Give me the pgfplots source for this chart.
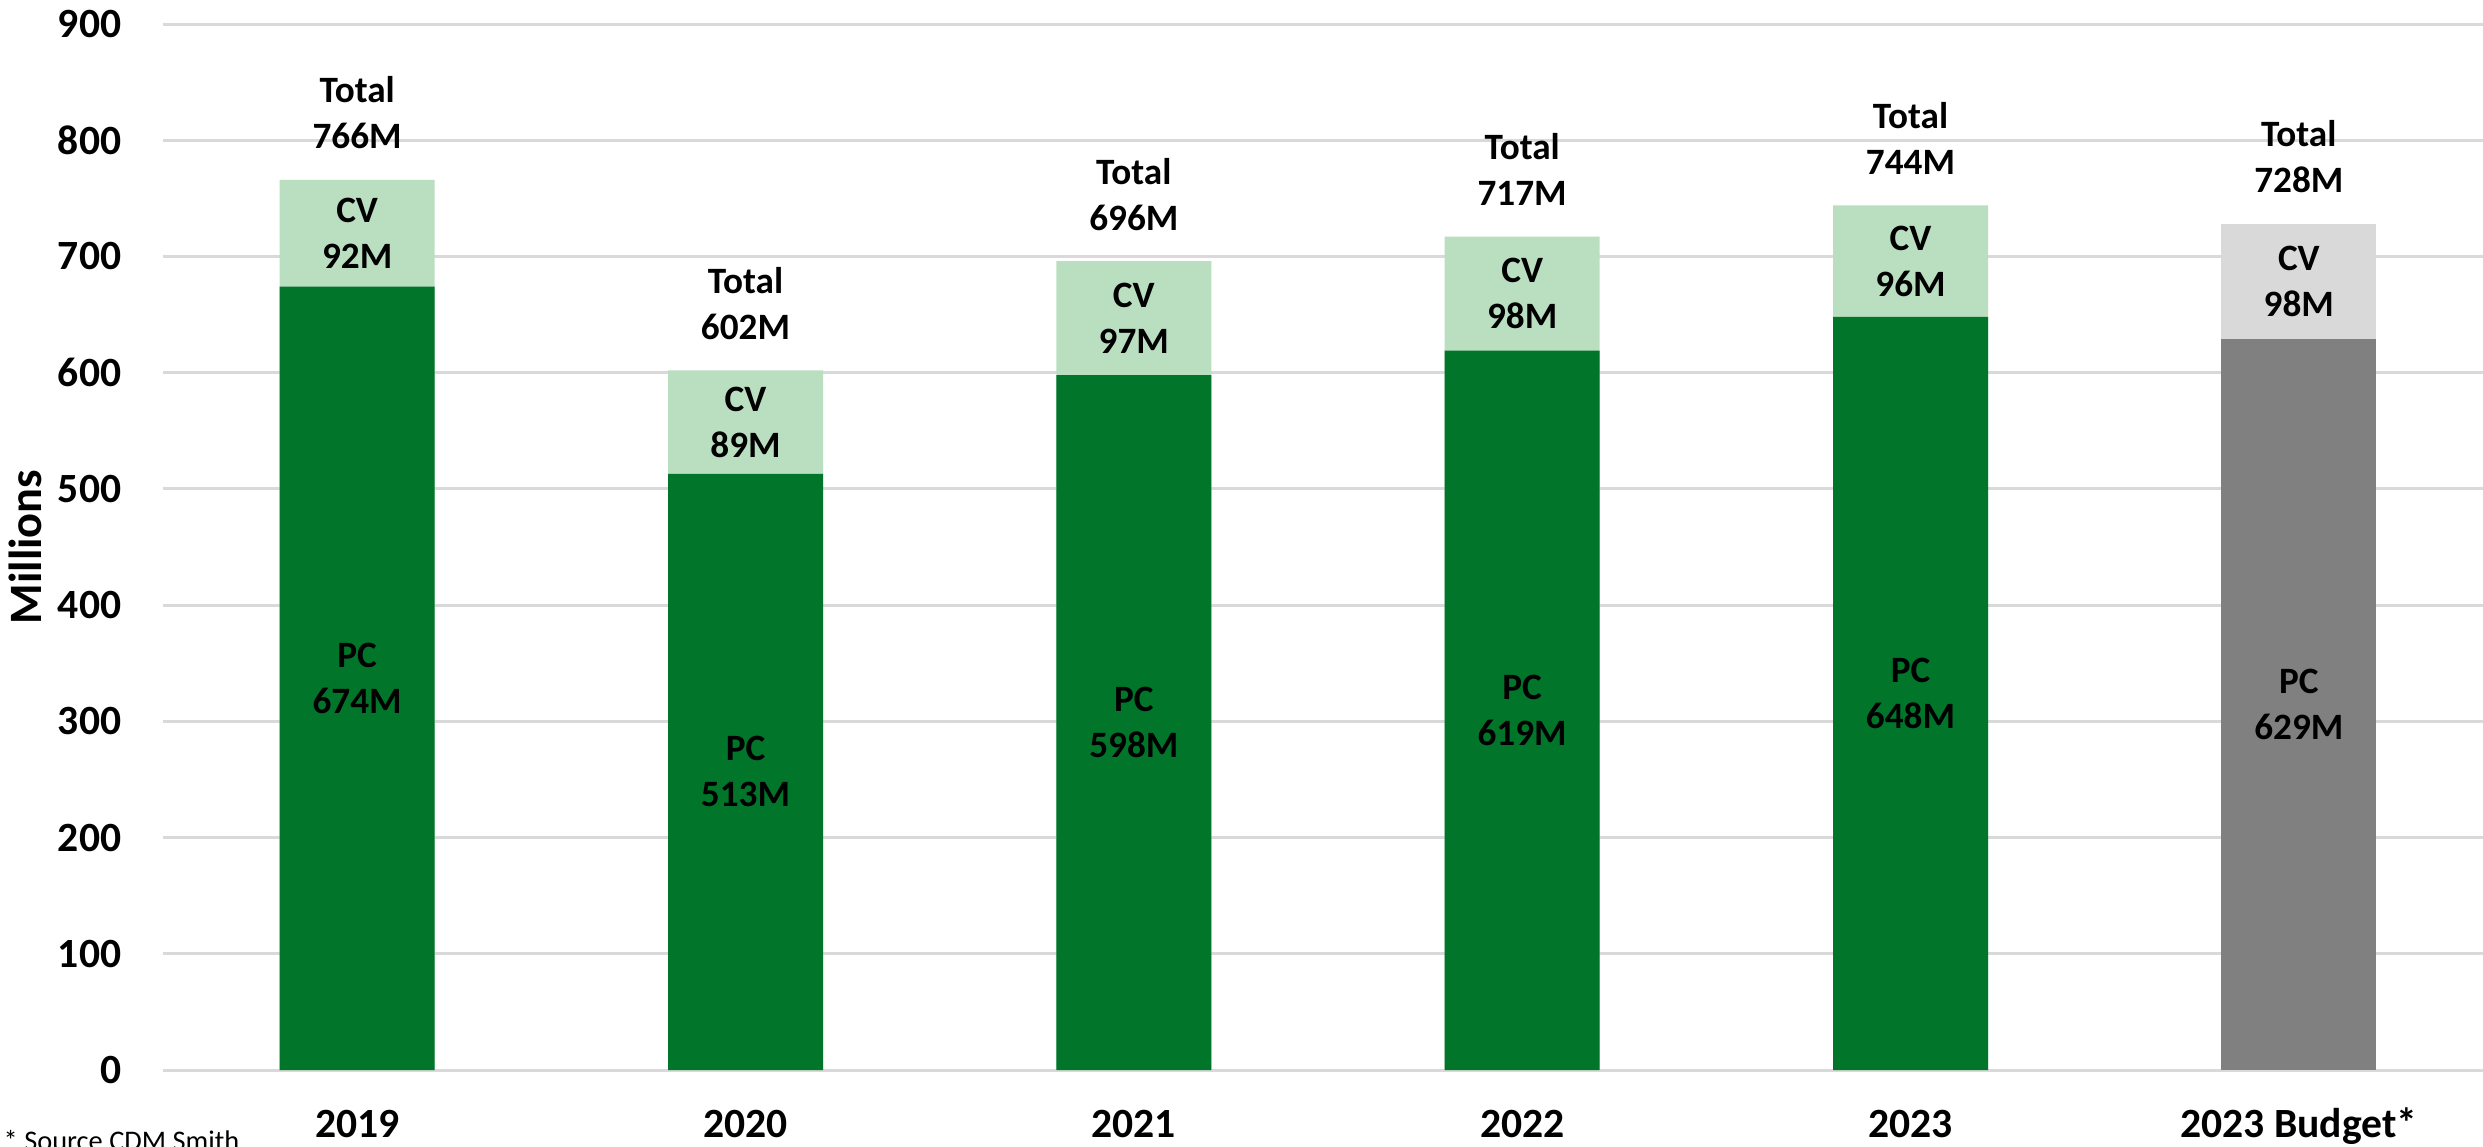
\documentclass[border=0pt]{standalone}
\usepackage{fontspec}
\setmainfont{Carlito}
\usepackage{pgfplots}
\pgfplotsset{compat=1.18}
\definecolor{pcgreen}{HTML}{01752A}
\definecolor{cvgreen}{HTML}{BADEC0}
\definecolor{pcgray}{HTML}{808080}
\definecolor{cvgray}{HTML}{D9D9D9}
\definecolor{gridgray}{HTML}{D9D9D9}
\newcommand{\tickfont}{\fontsize{10.4}{12}\selectfont\bfseries}
\newcommand{\ylabfont}{\fontsize{11.6}{13}\selectfont\bfseries}
\newcommand{\labfont}{\fontsize{9.3}{11.5}\selectfont\bfseries}
\begin{document}
\begin{tikzpicture}
\begin{axis}[
  name=ax, at={(0,0)}, anchor=south west,
  scale only axis, width=582.5pt, height=261.5pt,
  xmin=-0.5, xmax=5.5, ymin=0, ymax=900,
  ytick={0,100,...,900},
  xtick={0,...,5},
  xticklabels={2019,2020,2021,2022,2023,2023 Budget*},
  ymajorgrids, grid style={gridgray, line width=0.75pt},
  axis line style={draw=none},
  major tick length=0pt,
  /pgf/number format/assume math mode=true,
  yticklabel style={font=\tickfont, anchor=east, inner sep=0pt, xshift=-10.25pt},
  xticklabel style={font=\tickfont, anchor=base, inner sep=0pt, yshift=-16.75pt},
  ylabel={Millions},
  every axis y label/.style={at={(axis description cs:-0.0665,0.5)}, rotate=90, anchor=north, inner sep=0pt, font=\ylabfont},
  clip=false,
]
\addplot[ybar, bar shift=0pt, bar width=38.75pt, fill=cvgreen, draw=none] coordinates {(0,766) (1,602) (2,696) (3,717) (4,744)};
\addplot[ybar, bar shift=0pt, bar width=38.75pt, fill=cvgray, draw=none] coordinates {(5,728)};
\addplot[ybar, bar shift=0pt, bar width=38.75pt, fill=pcgreen, draw=none] coordinates {(0,674) (1,513) (2,598) (3,619) (4,648)};
\addplot[ybar, bar shift=0pt, bar width=38.75pt, fill=pcgray, draw=none] coordinates {(5,629)};
% total labels
\addplot[draw=none, mark=none, point meta=explicit symbolic,
  nodes near coords={Total\\\pgfplotspointmeta},
  every node near coord/.append style={anchor=south, align=center, inner sep=0pt, yshift=7.5pt, font=\labfont, text=black}]
  coordinates {(0,766)[766M] (1,602)[602M] (2,696)[696M] (3,717)[717M] (4,744)[744M] (5,728)[728M]};
% CV labels
\addplot[draw=none, mark=none, point meta=explicit symbolic,
  nodes near coords={CV\\\pgfplotspointmeta},
  every node near coord/.append style={anchor=center, align=center, inner sep=0pt, font=\labfont, text=black}]
  coordinates {(0,720)[92M] (1,557.5)[89M] (2,647)[97M] (3,668)[98M] (4,696)[96M] (5,678.5)[98M]};
% PC labels
\addplot[draw=none, mark=none, point meta=explicit symbolic,
  nodes near coords={PC\\\pgfplotspointmeta},
  every node near coord/.append style={anchor=center, align=center, inner sep=0pt, font=\labfont, text=black}]
  coordinates {(0,337)[674M] (1,256.5)[513M] (2,299)[598M] (3,309.5)[619M] (4,324)[648M] (5,314.5)[629M]};
\node[anchor=base west, inner sep=0pt, font=\fontsize{7.1}{8}\selectfont] at (axis description cs:-0.0687,-0.0765) {* Source CDM Smith};
\end{axis}
\pgfresetboundingbox
\path[use as bounding box] (-40.75pt,-19pt) rectangle (580pt,267.5pt);
\end{tikzpicture}
\end{document}
